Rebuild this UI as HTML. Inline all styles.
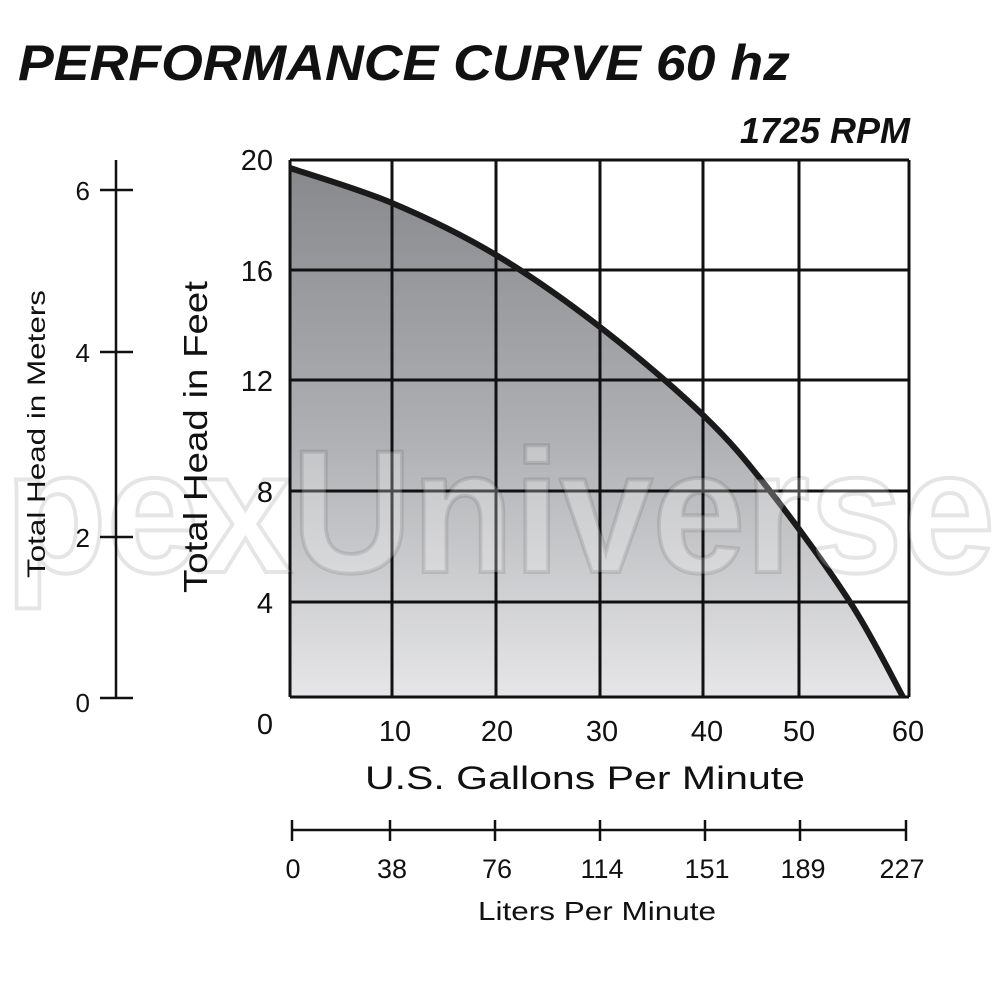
<!DOCTYPE html>
<html><head><meta charset="utf-8"><style>html,body{margin:0;padding:0;background:#fff;width:1000px;height:1000px;overflow:hidden}</style></head>
<body>
<svg width="1000" height="1000" viewBox="0 0 1000 1000" xmlns="http://www.w3.org/2000/svg" font-family="Liberation Sans, Arial, sans-serif">
<defs>
<linearGradient id="g" x1="0" y1="0" x2="0" y2="1">
<stop offset="0" stop-color="#88898c"/>
<stop offset="0.5" stop-color="#aeafb2"/>
<stop offset="1" stop-color="#e6e6e8"/>
</linearGradient>
</defs>
<text x="18" y="80" font-size="50" font-weight="bold" font-style="italic" fill="#111" textLength="772" lengthAdjust="spacingAndGlyphs">PERFORMANCE CURVE 60 hz</text>
<text x="910" y="143" font-size="36" font-weight="bold" font-style="italic" fill="#111" text-anchor="end">1725 RPM</text>

<path d="M290,168 C307,173.8 357.7,188.5 392,203 C426.3,217.5 461.3,234.3 496,255 C530.7,275.7 565.5,300.3 600,327 C634.5,353.7 674.7,387.7 703,415 C731.3,442.3 745.5,459.8 770,491 C794.5,522.2 827.8,567.7 850,602 C872.2,636.3 894.2,681.2 903,697 L290,697 Z" fill="url(#g)"/>

<g stroke="#111" stroke-width="3" fill="none">
<line x1="290" y1="160" x2="909" y2="160"/>
<line x1="290" y1="270" x2="909" y2="270"/>
<line x1="290" y1="380" x2="909" y2="380"/>
<line x1="290" y1="491" x2="909" y2="491"/>
<line x1="290" y1="602" x2="909" y2="602"/>
<line x1="290" y1="697" x2="909" y2="697"/>
<line x1="290" y1="160" x2="290" y2="697"/>
<line x1="392" y1="160" x2="392" y2="697"/>
<line x1="496" y1="160" x2="496" y2="697"/>
<line x1="600" y1="160" x2="600" y2="697"/>
<line x1="703" y1="160" x2="703" y2="697"/>
<line x1="799" y1="160" x2="799" y2="697"/>
<line x1="909" y1="160" x2="909" y2="697"/>
</g>
<path d="M290,168 C307,173.8 357.7,188.5 392,203 C426.3,217.5 461.3,234.3 496,255 C530.7,275.7 565.5,300.3 600,327 C634.5,353.7 674.7,387.7 703,415 C731.3,442.3 745.5,459.8 770,491 C794.5,522.2 827.8,567.7 850,602 C872.2,636.3 894.2,681.2 903,697" fill="none" stroke="#1a1a1a" stroke-width="6"/>

<text x="5" y="572" font-size="175" font-weight="bold" fill="#fff" fill-opacity="0.25" stroke="#000" stroke-opacity="0.1" stroke-width="4" textLength="990" lengthAdjust="spacingAndGlyphs">pexUniverse</text>

<g font-size="29" fill="#111" text-anchor="end">
<text x="273" y="170">20</text>
<text x="273" y="281">16</text>
<text x="273" y="391">12</text>
<text x="273" y="502">8</text>
<text x="273" y="613">4</text>
<text x="273" y="734">0</text>
</g>
<g font-size="29" fill="#111" text-anchor="middle">
<text x="395" y="741">10</text>
<text x="497" y="741">20</text>
<text x="602" y="741">30</text>
<text x="707" y="741">40</text>
<text x="799" y="741">50</text>
<text x="908" y="741">60</text>
</g>
<text x="585" y="789" font-size="32" fill="#111" text-anchor="middle" textLength="440" lengthAdjust="spacingAndGlyphs">U.S. Gallons Per Minute</text>
<text transform="translate(207,437) rotate(-90)" font-size="33" fill="#111" text-anchor="middle" textLength="312" lengthAdjust="spacingAndGlyphs">Total Head in Feet</text>

<g stroke="#111" stroke-width="2.5">
<line x1="116" y1="160" x2="116" y2="698"/>
<line x1="100" y1="190" x2="133" y2="190"/>
<line x1="100" y1="352" x2="133" y2="352"/>
<line x1="100" y1="537" x2="133" y2="537"/>
<line x1="100" y1="698" x2="133" y2="698"/>
</g>
<g font-size="26" fill="#111" text-anchor="end">
<text x="90" y="200">6</text>
<text x="90" y="362">4</text>
<text x="90" y="547">2</text>
<text x="90" y="712">0</text>
</g>
<text transform="translate(45,434) rotate(-90)" font-size="25" fill="#111" text-anchor="middle" textLength="288" lengthAdjust="spacingAndGlyphs">Total Head in Meters</text>

<g stroke="#111" stroke-width="2.5">
<line x1="292" y1="830" x2="906" y2="830"/>
<line x1="292" y1="820" x2="292" y2="841"/>
<line x1="390" y1="820" x2="390" y2="841"/>
<line x1="495" y1="820" x2="495" y2="841"/>
<line x1="600" y1="820" x2="600" y2="841"/>
<line x1="705" y1="820" x2="705" y2="841"/>
<line x1="800" y1="820" x2="800" y2="841"/>
<line x1="906" y1="820" x2="906" y2="841"/>
</g>
<g font-size="27" fill="#111" text-anchor="middle">
<text x="293" y="878">0</text>
<text x="392" y="878">38</text>
<text x="497" y="878">76</text>
<text x="602" y="878">114</text>
<text x="707" y="878">151</text>
<text x="803" y="878">189</text>
<text x="902" y="878">227</text>
</g>
<text x="597" y="920" font-size="26" fill="#111" text-anchor="middle" textLength="238" lengthAdjust="spacingAndGlyphs">Liters Per Minute</text>
</svg>
</body></html>
